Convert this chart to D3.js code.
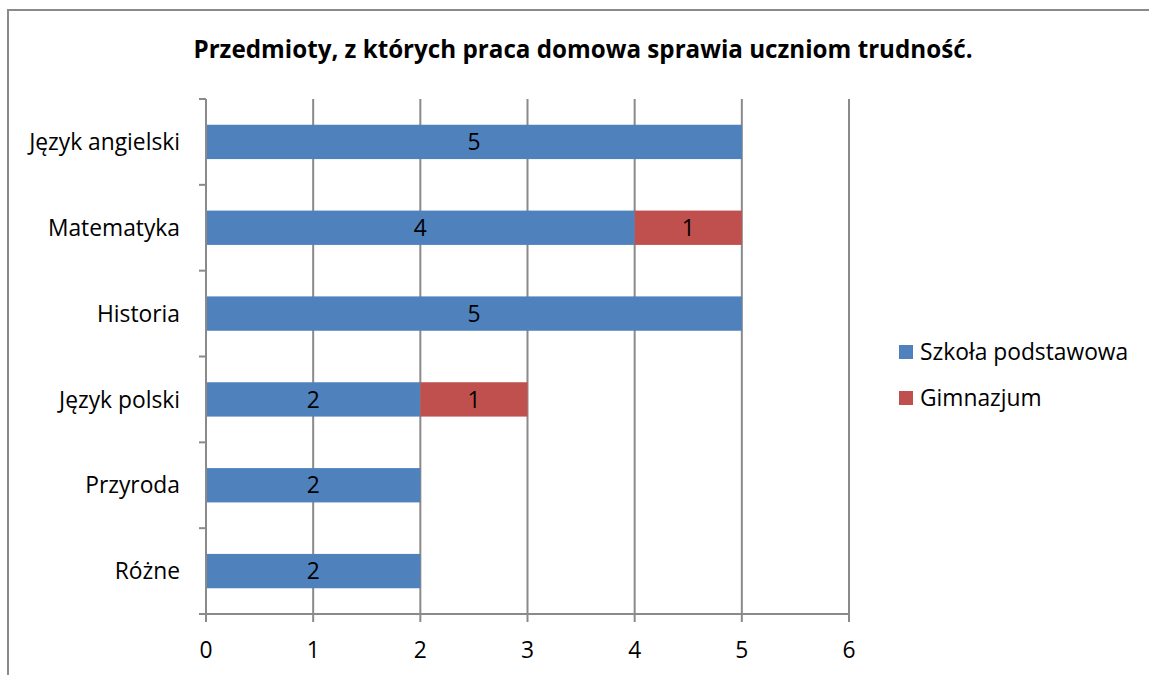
<!DOCTYPE html>
<html>
<head>
<meta charset="utf-8">
<script src="https://cdn.jsdelivr.net/npm/d3@7"></script>
<style>
  html, body { margin: 0; padding: 0; background: #fff; overflow: hidden; }
  svg { display: block; }
  svg text { font-family: "Open Sans", Lato, sans-serif; fill: #000; }
  .axis path, .axis line { stroke: #8a8a8a; stroke-width: 2; }
</style>
</head>
<body>
<svg id="chart" width="1149" height="675"></svg>
<script>
const categories = ['Język angielski', 'Matematyka', 'Historia', 'Język polski', 'Przyroda', 'Różne'];
const podstawowa = [5, 4, 5, 2, 2, 2];
const gimnazjum = [0, 1, 0, 1, 0, 0];
const seriesNames = ['Szkoła podstawowa', 'Gimnazjum'];
const seriesColors = ['#4f81bd', '#c0504d'];
const xTicks = [0, 1, 2, 3, 4, 5, 6];
const title = 'Przedmioty, z których praca domowa sprawia uczniom trudność.';

const fontSize = 22.8;

const svg = d3.select('#chart');
const margin = { left: 206, right: 300, top: 99, bottom: 61 };
const width = 1149, height = 675;
const innerWidth = width - margin.left - margin.right;
const innerHeight = height - margin.top - margin.bottom;

// chart border: only the top and left sides fall inside the picture
svg.append('path')
  .attr('d', `M8,${height}V10H${width}`)
  .attr('fill', 'none')
  .attr('stroke', '#8a8a8a')
  .attr('stroke-width', 2);

svg.append('text')
  .attr('x', 583).attr('y', 58)
  .attr('text-anchor', 'middle')
  .style('font-size', '24.2px')
  .style('font-weight', 'bold')
  .text(title);

const rows = categories.map((c, i) => ({ name: c, values: [podstawowa[i], gimnazjum[i]] }));

// scales in page coordinates
const xScale = d3.scaleLinear().domain([0, 6]).range([margin.left, margin.left + innerWidth]);
const yScale = d3.scaleBand().domain(categories).range([margin.top, margin.top + innerHeight])
  .paddingInner(0.6).paddingOuter(0.3);

// vertical gridlines
svg.append('g').selectAll('line').data(xTicks.slice(1))
  .enter().append('line')
    .attr('x1', d => xScale(d)).attr('x2', d => xScale(d))
    .attr('y1', margin.top).attr('y2', margin.top + innerHeight)
    .attr('stroke', '#8a8a8a')
    .attr('stroke-width', 2);

// stacked bars
const stack = d3.stack().keys([0, 1]).value((d, k) => d.values[k]);
const layers = stack(rows);

const layerG = svg.selectAll('.layer').data(layers)
  .enter().append('g')
    .attr('class', 'layer')
    .attr('fill', (d, i) => seriesColors[i]);

layerG.selectAll('rect').data(d => d.filter(s => s[1] > s[0]))
  .enter().append('rect')
    .attr('x', d => xScale(d[0]))
    .attr('y', d => yScale(d.data.name))
    .attr('width', d => xScale(d[1]) - xScale(d[0]))
    .attr('height', yScale.bandwidth());

layerG.selectAll('text').data(d => d.filter(s => s[1] > s[0]))
  .enter().append('text')
    .attr('x', d => (xScale(d[0]) + xScale(d[1])) / 2)
    .attr('y', d => yScale(d.data.name) + yScale.bandwidth() / 2)
    .attr('dy', '0.36em')
    .attr('text-anchor', 'middle')
    .style('font-size', fontSize + 'px')
    .text(d => d[1] - d[0]);

// y axis: ticks sit between categories
const yAxisG = svg.append('g').attr('class', 'axis');
yAxisG.append('line')
  .attr('x1', margin.left).attr('x2', margin.left)
  .attr('y1', margin.top).attr('y2', margin.top + innerHeight);
const step = yScale.step();
yAxisG.selectAll('.tick').data(d3.range(categories.length + 1))
  .enter().append('line')
    .attr('class', 'tick')
    .attr('x1', margin.left - 7).attr('x2', margin.left)
    .attr('y1', d => margin.top + d * step).attr('y2', d => margin.top + d * step);

// x axis line and ticks
const xAxisG = svg.append('g').attr('class', 'axis');
xAxisG.append('line')
  .attr('x1', margin.left - 7).attr('x2', margin.left + innerWidth)
  .attr('y1', margin.top + innerHeight).attr('y2', margin.top + innerHeight);
xAxisG.selectAll('.tick').data(xTicks)
  .enter().append('line')
    .attr('class', 'tick')
    .attr('x1', d => xScale(d)).attr('x2', d => xScale(d))
    .attr('y1', margin.top + innerHeight).attr('y2', margin.top + innerHeight + 8);

// axis labels
const labelsG = svg.append('g').style('font-size', fontSize + 'px');
labelsG.selectAll('.cat-label').data(categories)
  .enter().append('text')
    .attr('class', 'cat-label')
    .attr('x', margin.left - 26)
    .attr('y', d => yScale(d) + yScale.bandwidth() / 2)
    .attr('dy', '0.36em')
    .attr('text-anchor', 'end')
    .text(d => d);
labelsG.selectAll('.tick-label').data(xTicks)
  .enter().append('text')
    .attr('class', 'tick-label')
    .attr('x', d => xScale(d))
    .attr('y', margin.top + innerHeight + 44)
    .attr('text-anchor', 'middle')
    .text(d3.format('d'));

// legend
const legend = svg.append('g').attr('transform', 'translate(899,352)');
const item = legend.selectAll('g').data(seriesNames)
  .enter().append('g')
    .attr('transform', (d, i) => `translate(0,${i * 46})`);
item.append('rect')
  .attr('x', 0).attr('y', -7)
  .attr('width', 14).attr('height', 14)
  .attr('fill', (d, i) => seriesColors[i]);
item.append('text')
  .attr('x', 21).attr('dy', '0.36em')
  .style('font-size', fontSize + 'px')
  .text(d => d);
</script>
</body>
</html>
